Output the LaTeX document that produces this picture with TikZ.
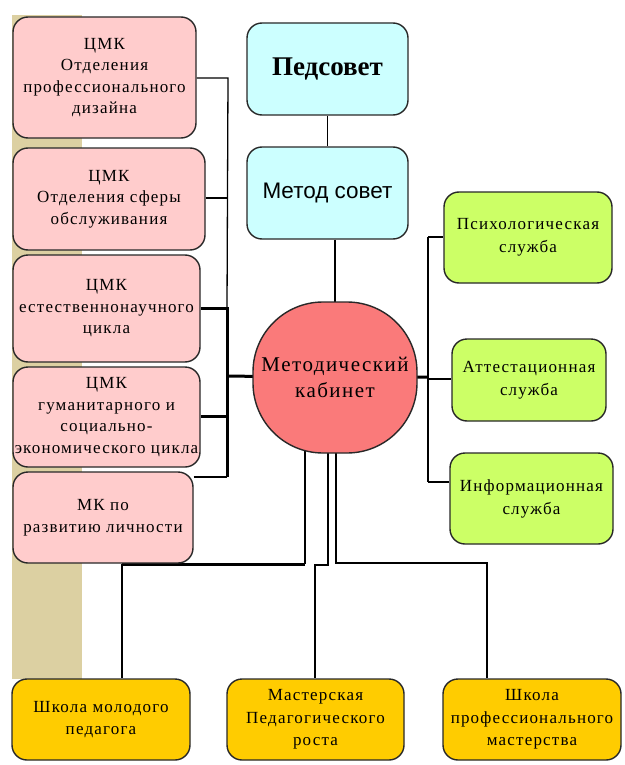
\documentclass[tikz,border=0pt]{standalone}
\usepackage{fontspec}
\setmainfont{Liberation Serif}[LetterSpace=7]
\newfontfamily\arialf{Liberation Sans}
\newfontfamily\timesb{Liberation Serif}
\usetikzlibrary{calc}
\pgfdeclarelayer{background}
\pgfdeclarelayer{bottomlayer}
\pgfsetlayers{bottomlayer,background,main}
\definecolor{pinkc}{RGB}{255,204,204}
\definecolor{cyanc}{RGB}{204,255,255}
\definecolor{redc}{RGB}{250,122,122}
\definecolor{greenc}{RGB}{204,255,102}
\definecolor{yellowc}{RGB}{255,204,0}
\definecolor{tanc}{RGB}{220,208,162}
\definecolor{edgec}{RGB}{40,40,40}
\tikzset{
  box/.style={draw=edgec, line width=1.4pt, rounded corners=15pt, align=center, inner sep=1pt, text=black},
  pinkbox/.style={box, fill=pinkc, font=\fontsize{17}{21.5}\selectfont},
  cyanbox/.style={box, fill=cyanc},
  greenbox/.style={box, fill=greenc, font=\fontsize{17}{23}\selectfont},
  yellowbox/.style={box, fill=yellowc, font=\fontsize{17}{22.5}\selectfont},
  redbox/.style={box, fill=redc, rounded corners=70pt, font=\fontsize{21}{26}\selectfont},
  thinline/.style={line width=1.3pt, black},
  thickline/.style={line width=3pt, black},
}
\begin{document}
\begin{tikzpicture}[x=1pt,y=-1pt]
\useasboundingbox (0,0) rectangle (624,765);
\begin{pgfonlayer}{bottomlayer}
\fill[white] (0,0) rectangle (624,765);
\fill[tanc] (12,15) rectangle (82,679);
\end{pgfonlayer}
% left boxes
\node[pinkbox, minimum width=183pt, minimum height=121pt] (p1) at (104.5,77.5) {ЦМК\\Отделения\\профессионального\\дизайна};
\node[pinkbox, minimum width=192pt, minimum height=102pt] (p2) at (109,199) {ЦМК\\Отделения сферы\\обслуживания};
\node[pinkbox, minimum width=187pt, minimum height=107pt] (p3) at (106.5,308.5) {ЦМК\\естественнонаучного\\цикла};
\node[pinkbox, minimum width=187pt, minimum height=100pt] (p4) at (106.5,417) {ЦМК\\гуманитарного и\\социально-\\экономического цикла};
\node[pinkbox, minimum width=180pt, minimum height=91pt] (p5) at (103,517.5) {МК по\\развитию личности};
% centre column
\node[cyanbox, minimum width=161pt, minimum height=92pt, font=\timesb\bfseries\fontsize{27}{30}\selectfont] (ped) at (327.5,69) {Педсовет};
\node[cyanbox, minimum width=161pt, minimum height=92pt, font=\arialf\fontsize{22.5}{25}\selectfont] (mc) at (327.5,193) {Метод совет};
\node[redbox, minimum width=164pt, minimum height=151pt] (m) at (335,377.5) {Методический\\кабинет};
% right column
\node[greenbox, minimum width=168pt, minimum height=91pt] (g1) at (528,237.5) {Психологическая\\служба};
\node[greenbox, minimum width=154pt, minimum height=82pt] (g2) at (529,380) {Аттестационная\\служба};
\node[greenbox, minimum width=163pt, minimum height=91pt] (g3) at (531.5,498.5) {Информационная\\служба};
% bottom row
\node[yellowbox, minimum width=178pt, minimum height=81pt] (y1) at (101,719.5) {Школа молодого\\педагога};
\node[yellowbox, minimum width=177pt, minimum height=81pt] (y2) at (315.5,719.5) {Мастерская\\Педагогического\\роста};
\node[yellowbox, minimum width=178pt, minimum height=81pt] (y3) at (532,719.5) {Школа\\профессионального\\мастерства};
% coordinates
\coordinate (b1) at (228,78);
\coordinate (b2) at (228,198);
\coordinate (b3) at (227,308);
\coordinate (b4) at (227,416);
\coordinate (b5) at (227,477);
\coordinate (bm) at (227,376);
\coordinate (r0) at (428,377);
\coordinate (r1) at (428,237);
\coordinate (r2) at (428,379);
\coordinate (r3) at (428,482);
\coordinate (d1) at (305,564);
\coordinate (d1b) at (122,564);
\coordinate (d2) at (328,565);
\coordinate (d2b) at (315,565);
\coordinate (d3) at (336,563);
\coordinate (d3b) at (487,563);
\begin{pgfonlayer}{background}
% left bus
\draw[thinline] (p1.east |- b1) -- (b1) -- (b3);
\draw[thinline] (p2.east |- b2) -- (b2);
\draw[thickline] (p3.east |- b3) -- (b3) -- (b5);
\draw[thickline] (p4.east |- b4) -- (b4);
\draw[thinline] (p5.east |- b5) -- (b5);
\draw[thickline] (bm) -- (m.center);
% top
\draw[thinline] (ped.south) -- (mc.north);
\draw[thinline] (mc.south -| m.north) -- (m.center);
% right
\draw[thickline] (m.center) -- (r0);
\draw[thinline] (r1) -- (r3);
\draw[thinline] (r1) -- (r1 -| g1.west);
\draw[thinline] (r2) -- (r2 -| g2.west);
\draw[thinline] (r3) -- (r3 -| g3.west);
% bottom
\draw[thinline] (m.center -| d1) -- (d1);
\draw[thickline] (d1) -- (d1b);
\draw[thinline] (d1b) -- (d1b |- y1.north);
\draw[thinline] (m.center -| d2) -- (d2) -- (d2b) -- (d2b |- y2.north);
\draw[thinline] (m.center -| d3) -- (d3) -- (d3b) -- (d3b |- y3.north);
\end{pgfonlayer}
\end{tikzpicture}
\end{document}
